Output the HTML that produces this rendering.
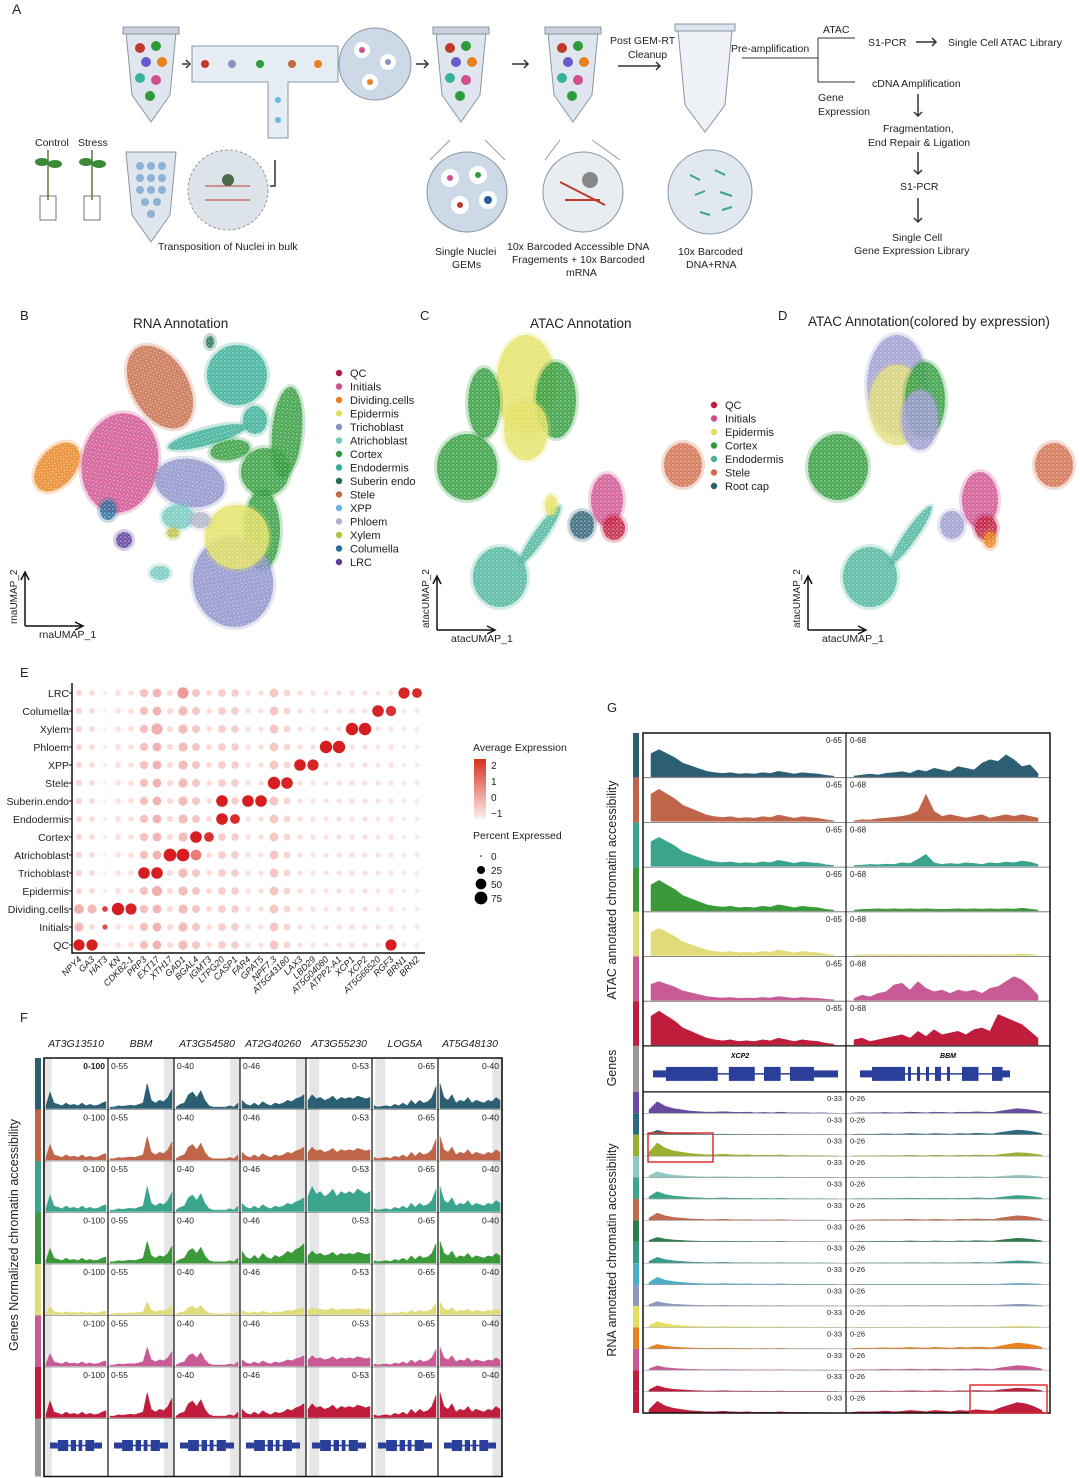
<!DOCTYPE html>
<html><head><meta charset="utf-8">
<style>
html,body{margin:0;padding:0;background:#fff;}
svg{display:block;font-family:"Liberation Sans",sans-serif;}
</style></head>
<body>
<svg id="fig" width="1080" height="1478" viewBox="0 0 1080 1478" xmlns="http://www.w3.org/2000/svg">
<g id="panelA" font-size="10.5" fill="#222">
  <text x="12" y="14" font-size="14">A</text>
  <path d="M126 32 L176 32 L170 95 L151 122 L132 95 Z" fill="#dfe6ee" stroke="#8895a5"/>
  <rect x="123" y="27" width="56" height="7" fill="#c9d2dc" stroke="#8895a5"/>
  <circle cx="140" cy="48" r="5" fill="#c0392b"/><circle cx="156" cy="46" r="5" fill="#2e9a3a"/><circle cx="146" cy="62" r="5" fill="#6a5acd"/><circle cx="162" cy="62" r="5" fill="#e8821e"/><circle cx="140" cy="78" r="5" fill="#36b39a"/><circle cx="156" cy="80" r="5" fill="#d04f8f"/><circle cx="150" cy="96" r="5" fill="#2e9a3a"/>
  <path d="M182 64 L188 64" stroke="#333" stroke-width="1.5"/><path d="M186 60 L190 64 L186 68" fill="none" stroke="#333" stroke-width="1.5"/>
  <path d="M192 46 L338 46 L338 82 L288 82 L288 138 L268 138 L268 82 L192 82 Z" fill="#e6edf3" stroke="#8895a5"/>
  <circle cx="205" cy="64" r="4" fill="#c0392b"/><circle cx="232" cy="64" r="4" fill="#8a8fc8"/><circle cx="260" cy="64" r="4" fill="#2e9a3a"/><circle cx="292" cy="64" r="4" fill="#c46a46"/><circle cx="318" cy="64" r="4" fill="#e8821e"/><circle cx="278" cy="100" r="3" fill="#6ab7dd"/><circle cx="278" cy="120" r="3" fill="#6ab7dd"/>
  <circle cx="375" cy="64" r="36" fill="#cdd9e6" stroke="#8895a5"/>
  <circle cx="362" cy="50" r="8" fill="#fff"/><circle cx="388" cy="62" r="8" fill="#fff"/><circle cx="370" cy="82" r="8" fill="#fff"/><circle cx="362" cy="50" r="3" fill="#d04f8f"/><circle cx="388" cy="62" r="3" fill="#8a8fc8"/><circle cx="370" cy="82" r="3" fill="#e8821e"/>
  <path d="M416 64 L428 64 M424 60 L428 64 L424 68" fill="none" stroke="#333" stroke-width="1.5"/>
  <path d="M436 32 L486 32 L480 95 L461 122 L442 95 Z" fill="#dfe6ee" stroke="#8895a5"/>
  <rect x="433" y="27" width="56" height="7" fill="#c9d2dc" stroke="#8895a5"/>
  <circle cx="450" cy="48" r="5" fill="#c0392b"/><circle cx="466" cy="46" r="5" fill="#2e9a3a"/><circle cx="456" cy="62" r="5" fill="#6a5acd"/><circle cx="472" cy="62" r="5" fill="#e8821e"/><circle cx="450" cy="78" r="5" fill="#36b39a"/><circle cx="466" cy="80" r="5" fill="#d04f8f"/><circle cx="460" cy="96" r="5" fill="#2e9a3a"/>
  <path d="M512 64 L528 64 M524 60 L528 64 L524 68" fill="none" stroke="#333" stroke-width="1.5"/>
  <path d="M548 32 L598 32 L592 95 L573 122 L554 95 Z" fill="#dfe6ee" stroke="#8895a5"/>
  <rect x="545" y="27" width="56" height="7" fill="#c9d2dc" stroke="#8895a5"/>
  <circle cx="562" cy="48" r="5" fill="#c0392b"/><circle cx="578" cy="46" r="5" fill="#2e9a3a"/><circle cx="568" cy="62" r="5" fill="#6a5acd"/><circle cx="584" cy="62" r="5" fill="#e8821e"/><circle cx="562" cy="78" r="5" fill="#36b39a"/><circle cx="578" cy="80" r="5" fill="#d04f8f"/><circle cx="572" cy="96" r="5" fill="#2e9a3a"/>
  <text x="610" y="44">Post GEM-RT</text>
  <text x="628" y="58">Cleanup</text>
  <path d="M618 66 L660 66 M656 62 L660 66 L656 70" fill="none" stroke="#333" stroke-width="1.5"/>
  <path d="M678 30 L732 30 L725 105 L705 132 L685 105 Z" fill="#eef2f6" stroke="#8895a5"/>
  <rect x="675" y="24" width="60" height="7" fill="#dde3ea" stroke="#8895a5"/>
  <text x="731" y="52">Pre-amplification</text>
  <path d="M742 58 L818 58 M818 38 L818 82 M818 38 L855 38 M818 82 L855 82" fill="none" stroke="#333"/>
  <text x="823" y="33">ATAC</text>
  <text x="868" y="46">S1-PCR</text>
  <path d="M916 42 L936 42 M932 38 L936 42 L932 46" fill="none" stroke="#333" stroke-width="1.5"/>
  <text x="948" y="46">Single Cell ATAC Library</text>
  <text x="872" y="87">cDNA Amplification</text>
  <text x="818" y="101">Gene</text><text x="818" y="115">Expression</text>
  <path d="M918 94 L918 116 M914 112 L918 116 L922 112" fill="none" stroke="#333" stroke-width="1.5"/>
  <text x="883" y="132">Fragmentation,</text><text x="868" y="146">End Repair &amp; Ligation</text>
  <path d="M918 152 L918 174 M914 170 L918 174 L922 170" fill="none" stroke="#333" stroke-width="1.5"/>
  <text x="900" y="190">S1-PCR</text>
  <path d="M918 198 L918 222 M914 218 L918 222 L922 218" fill="none" stroke="#333" stroke-width="1.5"/>
  <text x="892" y="241">Single Cell</text><text x="854" y="254">Gene Expression Library</text>
  <text x="35" y="146">Control</text><text x="78" y="146">Stress</text>
  <path d="M48 150 L48 200 M92 150 L92 200" stroke="#5a7a3a" stroke-width="1.5"/>
  <ellipse cx="42" cy="162" rx="7" ry="4" fill="#3a8a3a"/><ellipse cx="55" cy="164" rx="7" ry="4" fill="#3a8a3a"/><ellipse cx="86" cy="162" rx="7" ry="4" fill="#3a8a3a"/><ellipse cx="99" cy="164" rx="7" ry="4" fill="#3a8a3a"/>
  <rect x="40" y="196" width="16" height="24" fill="none" stroke="#777"/><rect x="84" y="196" width="16" height="24" fill="none" stroke="#777"/>
  <path d="M126 152 L176 152 L170 215 L151 242 L132 215 Z" fill="#dfe6ee" stroke="#8895a5"/>
  <g fill="#8fb1d8"><circle cx="140" cy="166" r="4"/><circle cx="151" cy="166" r="4"/><circle cx="162" cy="166" r="4"/><circle cx="140" cy="178" r="4"/><circle cx="151" cy="178" r="4"/><circle cx="162" cy="178" r="4"/><circle cx="140" cy="190" r="4"/><circle cx="151" cy="190" r="4"/><circle cx="162" cy="190" r="4"/><circle cx="145" cy="202" r="4"/><circle cx="157" cy="202" r="4"/><circle cx="151" cy="214" r="4"/></g>
  <circle cx="228" cy="190" r="40" fill="#dde3ea" stroke="#999" stroke-dasharray="3 2"/>
  <path d="M205 186 L250 186 M205 200 L250 200" stroke="#c0392b"/><circle cx="228" cy="180" r="6" fill="#4a6a4a"/>
  <path d="M270 186 L275 186 L275 160" fill="none" stroke="#333" stroke-width="1.5"/>
  <text x="158" y="250">Transposition of Nuclei in bulk</text>
  <circle cx="467" cy="192" r="40" fill="#cdd9e6" stroke="#8895a5"/>
  <g fill="#fff"><circle cx="450" cy="178" r="9"/><circle cx="478" cy="175" r="9"/><circle cx="460" cy="205" r="9"/><circle cx="488" cy="200" r="9"/></g>
  <g><circle cx="450" cy="178" r="3" fill="#d04f8f"/><circle cx="478" cy="175" r="3" fill="#2e9a3a"/><circle cx="460" cy="205" r="3" fill="#c0392b"/><circle cx="488" cy="200" r="4" fill="#2a5a9a"/></g>
  <circle cx="583" cy="192" r="40" fill="#e8edf2" stroke="#8895a5"/>
  <path d="M560 182 L605 205 M565 200 L600 200" stroke="#c0392b" stroke-width="2"/><circle cx="590" cy="180" r="8" fill="#888"/>
  <circle cx="710" cy="192" r="42" fill="#e1e8ef" stroke="#8895a5"/>
  <path d="M690 175 l10 5 M715 170 l10 5 M695 195 l10 -4 M720 192 l12 4 M700 212 l10 3 M722 210 l10 -3" stroke="#3aa58c" stroke-width="2"/>
  <path d="M450 140 L430 160 M485 140 L505 160 M560 140 L545 160 M592 140 L620 160" stroke="#999"/>
  <text x="435" y="255">Single Nuclei</text><text x="452" y="268">GEMs</text>
  <text x="507" y="250">10x Barcoded Accessible DNA</text><text x="512" y="263">Fragements + 10x Barcoded</text><text x="566" y="276">mRNA</text>
  <text x="678" y="255">10x Barcoded</text><text x="686" y="268">DNA+RNA</text>
</g>
<g id="umaps"></g>
<g id="dotplot"></g>
<g id="panelF"></g>
<g id="panelG"></g>
</svg>
<script>
const NS="http://www.w3.org/2000/svg";
function mk(tag,attrs,parent,txt){const e=document.createElementNS(NS,tag);for(const k in attrs)e.setAttribute(k,attrs[k]);if(txt!==undefined)e.textContent=txt;parent.appendChild(e);return e;}

/* ---------- UMAP data ---------- */
const rnaTypes=["QC","Initials","Dividing.cells","Epidermis","Trichoblast","Atrichoblast","Cortex","Endodermis","Suberin endo","Stele","XPP","Phloem","Xylem","Columella","LRC"];
const rnaColors=["#b5174a","#d04f8f","#e8821e","#e3e060","#8a8fc8","#70c8c0","#2e9a3a","#36ad95","#1f6e4e","#c46a46","#6ab7dd","#b0b0c8","#b8c040","#2a6a9a","#5a3a9a"];
const rnaBlobs=[ // [typeIndex, cx, cy, rx, ry, rot]
 [9,160,387,28,45,-30],[7,237,375,30,30,0],[8,210,342,4,6,0],[7,255,420,12,14,0],[7,207,437,40,8,-15],
 [6,287,432,15,45,5],[6,265,472,24,24,0],[6,262,530,18,40,0],[6,230,450,20,10,-10],
 [1,120,463,38,50,10],[2,57,467,18,28,40],[4,190,483,35,24,10],[4,233,582,40,45,-10],
 [3,237,537,32,32,0],[5,178,517,16,12,0],[13,108,510,8,10,0],[14,124,540,8,8,0],[5,160,573,10,7,0],[12,173,533,6,5,0],[11,200,520,10,8,0]];
const atacTypes=["QC","Initials","Epidermis","Cortex","Endodermis","Stele","Root cap"];
const atacColors=["#c01c3c","#d04f8f","#e3e060","#2e9a3a","#4ab39c","#d06a48","#2a5f73"];
const atacBlobs=[[2,526,385,30,50,0],[3,467,467,30,33,0],[3,484,403,16,35,0],[3,556,400,20,38,0],[2,526,430,22,30,0],
 [5,683,465,19,22,0],[1,607,500,16,26,0],[0,614,528,11,12,0],[6,582,525,12,14,0],[4,500,577,27,30,0],[4,540,535,6,35,35],[2,551,505,6,10,0]];
const mixColors=["#c01c3c","#d04f8f","#e0dc7a","#2e9a3a","#4ab39c","#d06a48","#2a5f73","#9a9ad0","#e8821e"];
const mixBlobs=[[3,838,467,30,33,0],[7,897,385,30,50,0],[2,897,405,28,40,0],[3,925,400,20,38,0],[7,920,420,18,30,0],
 [5,1054,465,19,22,0],[1,980,500,18,28,0],[0,986,528,11,12,0],[7,952,525,12,14,0],[8,990,540,6,8,0],[4,870,577,27,30,0],[4,911,535,6,35,35]];
const U=document.getElementById("umaps");
const defs=mk("defs",{},document.getElementById("fig"));
const pat=mk("pattern",{id:"speck",width:"4",height:"4",patternUnits:"userSpaceOnUse"},defs);
mk("circle",{cx:"1",cy:"1",r:"0.8",fill:"#fff","fill-opacity":"0.6"},pat);
mk("circle",{cx:"3",cy:"2.8",r:"0.6",fill:"#fff","fill-opacity":"0.45"},pat);
function drawBlobs(list,colors,name){
  const g=mk("g",{},U);
  
  
  list.forEach(b=>{
    const t=`rotate(${b[5]} ${b[1]} ${b[2]})`;
    mk("ellipse",{cx:b[1],cy:b[2],rx:b[3]+3,ry:b[4]+3,fill:colors[b[0]],"fill-opacity":"0.25",transform:t},g);
    const e=mk("ellipse",{cx:b[1],cy:b[2],rx:b[3],ry:b[4],fill:colors[b[0]],"fill-opacity":"0.82",transform:t},g);
    
    
    mk("ellipse",{cx:b[1],cy:b[2],rx:b[3],ry:b[4],fill:"url(#speck)",transform:t},g);
  });
}
drawBlobs(rnaBlobs,rnaColors,"rna-umap");
drawBlobs(atacBlobs,atacColors,"atac-umap");
drawBlobs(mixBlobs,mixColors,"atac-umap-expression");
function legend(x,y,labels,colors,step,name){
  const g=mk("g",{"font-size":"11",fill:"#222"},U);
  
  
  labels.forEach((l,i)=>{mk("circle",{cx:x,cy:y+i*step-4,r:3.2,fill:colors[i]},g);const t=mk("text",{x:x+11,y:y+i*step},g,l);
    });
}
legend(339,377,rnaTypes,rnaColors,13.5,"rna-legend");
legend(714,409,atacTypes,atacColors,13.5,"atac-legend");
[["B",20,320,"RNA Annotation",133,328],["C",420,320,"ATAC Annotation",530,328],["D",778,320,"ATAC Annotation(colored by expression)",808,326]].forEach(p=>{
  mk("text",{x:p[1],y:p[2],"font-size":"13",fill:"#222"},U,p[0]);
  const t=mk("text",{x:p[4],y:p[5],"font-size":"13.5",fill:"#222"},U,p[3]);
  
});
[[25,626,"rnaUMAP_2","rnaUMAP_1"],[437,630,"atacUMAP_2","atacUMAP_1"],[808,630,"atacUMAP_2","atacUMAP_1"]].forEach(a=>{
  mk("path",{d:`M${a[0]} ${a[1]} L${a[0]} ${a[1]-52} M${a[0]-4} ${a[1]-46} L${a[0]} ${a[1]-54} L${a[0]+4} ${a[1]-46} M${a[0]} ${a[1]} L${a[0]+56} ${a[1]} M${a[0]+50} ${a[1]-4} L${a[0]+58} ${a[1]} L${a[0]+50} ${a[1]+4}`,fill:"none",stroke:"#111","stroke-width":"1.5"},U);
  mk("text",{x:a[0]-8,y:a[1]-2,"font-size":"10",transform:`rotate(-90 ${a[0]-8} ${a[1]-2})`,fill:"#222"},U,a[2]);
  mk("text",{x:a[0]+14,y:a[1]+12,"font-size":"10.5",fill:"#222"},U,a[3]);
});

/* ---------- Dot plot data ---------- */
const dpRows=["LRC","Columella","Xylem","Phloem","XPP","Stele","Suberin.endo","Endodermis","Cortex","Atrichoblast","Trichoblast","Epidermis","Dividing.cells","Initials","QC"];
const dpGenes=["NPY4","GA3","HAT3","KN","CDKB2-1","PRP3","EXT17","XTH17","GAD1","BGAL4","IGMT3","LTPG20","CASP1","FAR4","GPAT5","NPF7.3","AT5G43180","LAX3","LBD29","AT5G04080","ATPP2-A1","XCP1","XCP2","AT5G66520","RGF3","BRN1","BRN2"];
const colBasePct=[12,10,3,10,10,28,32,12,35,25,10,22,22,8,8,32,18,8,8,8,8,8,8,8,8,6,6];
const colBaseExpr=[-0.6,-0.7,-0.9,-0.8,-0.8,-0.3,-0.1,-0.7,-0.2,-0.4,-0.7,-0.5,-0.5,-0.8,-0.8,-0.4,-0.6,-0.8,-0.8,-0.8,-0.8,-0.8,-0.8,-0.8,-0.8,-0.9,-0.9];
const dpHighlights=[ // [row, gene, avgExpr, pctExpressed]
 [0,25,2.2,55],[0,26,2.1,40],[0,8,0.3,55],[1,23,2.2,60],[1,24,2.0,45],[2,21,2.3,70],[2,22,2.3,70],[2,6,0,55],
 [3,19,2.3,70],[3,20,2.3,70],[4,17,2.3,60],[4,18,2.2,55],[5,15,2.3,70],[5,16,2.2,60],
 [6,11,2.3,60],[6,13,2.3,60],[6,14,2.3,60],[7,11,2.3,60],[7,12,2.1,40],[8,9,2.3,60],[8,10,2.0,40],
 [9,7,2.3,75],[9,8,2.3,75],[9,9,0.8,50],[10,5,2.3,60],[10,6,2.3,60],[11,6,0,45],
 [12,3,2.3,70],[12,4,2.2,55],[12,0,0,40],[12,1,-0.2,35],[12,2,1.8,10],[13,0,-0.2,35],[13,2,1.5,8],[14,0,2.3,55],[14,1,2.3,55],[14,24,2.3,55]];
const expTicks=[2,1,0,-1];
const pctTicks=[0,25,50,75];
(function(){
  const G=document.getElementById("dotplot");
  const x0=79,xs=13,y0=693,ys=18;
  const X=i=>x0+i*xs, Y=j=>y0+j*ys;
  const R=p=>0.8+Math.sqrt(p/75)*5.6;
  const C=e=>{const t=Math.max(0,Math.min(1,(e+1)/3.3));const a=[253,238,234],b=[214,30,32];return `rgb(${a.map((v,k)=>Math.round(v+(b[k]-v)*t)).join(",")})`;};
  mk("text",{x:20,y:677,"font-size":"13",fill:"#222"},G,"E");
  mk("path",{d:`M${X(0)-7} 683 L${X(0)-7} 953 L${X(26)+8} 953`,fill:"none",stroke:"#111","stroke-width":"1.5"},G);
  dpRows.forEach((r,j)=>{
    const t=mk("text",{x:X(0)-10,y:Y(j)+4,"font-size":"10.5","text-anchor":"end",fill:"#222"},G,r);
    
    mk("line",{x1:X(0)-10,x2:X(0)-7,y1:Y(j),y2:Y(j),stroke:"#111"},G);
  });
  dpGenes.forEach((g,i)=>{
    const t=mk("text",{x:X(i)+3,y:960,"font-size":"9","text-anchor":"end","font-style":"italic",fill:"#222",transform:`rotate(-45 ${X(i)+3} 960)`},G,g);
    
  });
  const val={};
  dpHighlights.forEach(h=>{val[h[0]+"_"+h[1]]=h;});
  dpRows.forEach((r,j)=>dpGenes.forEach((g,i)=>{
    const h=val[j+"_"+i];
    const e=h?h[2]:colBaseExpr[i], p=h?h[3]:colBasePct[i];
    const c=mk("circle",{cx:X(i),cy:Y(j),r:R(p),fill:C(e)},G);
    
    
  }));
  mk("text",{x:473,y:751,"font-size":"10.5",fill:"#222"},G,"Average Expression");
  const lg=mk("linearGradient",{id:"expg",x1:"0",y1:"0",x2:"0",y2:"1"},defs);
  mk("stop",{offset:"0","stop-color":"#d9301e"},lg);mk("stop",{offset:"1","stop-color":"#fdf0ee"},lg);
  mk("rect",{x:474,y:759,width:12,height:60,fill:"url(#expg)"},G);
  expTicks.forEach(v=>mk("text",{x:491,y:769+(2-v)*16,"font-size":"10",fill:"#222"},G,v===-1?"−1":v));
  mk("text",{x:473,y:839,"font-size":"10.5",fill:"#222"},G,"Percent Expressed");
  pctTicks.forEach((v,k)=>{mk("circle",{cx:481,cy:856+k*14,r:R(v)},G);mk("text",{x:491,y:860+k*14,"font-size":"10",fill:"#222"},G,v);});
})();

/* ---------- Track helpers ---------- */
function area(g,x,y,w,h,vals,color,name){
  let d=`M${x} ${y+h}`;
  const n=vals.length;
  vals.forEach((v,i)=>{const xx=x+i*w/(n-1);d+=` L${xx.toFixed(1)} ${(y+h-Math.min(1,v)*h*0.95).toFixed(1)}`;});
  d+=` L${x+w} ${y+h} Z`;
  const p=mk("path",{d:d,fill:color,stroke:color,"stroke-width":"0.5"},g);
  
  
}
function geneModel(g,x,y,w,exons,name){
  const gg=mk("g",{},g);
  
  
  mk("line",{x1:x,x2:x+w,y1:y,y2:y,stroke:"#2a3f9a","stroke-width":"1.5"},gg);
  exons.forEach(e=>mk("rect",{x:x+e[0]*w,y:y-e[2]/2,width:(e[1]-e[0])*w,height:e[2],fill:"#2a3f9a"},gg));
}

/* ---------- Panel F data ---------- */
const fGenes=["AT3G13510","BBM","AT3G54580","AT2G40260","AT3G55230","LOG5A","AT5G48130"];
const fRanges=["0-100","0-55","0-40","0-46","0-53","0-65","0-40"];
const fRangeRight=[1,0,0,0,1,1,1];
const fColors=["#2c5f73","#c0654a","#3aa58c","#3a9a3a","#e0dc7a","#c85a96","#c01c3c"];
const fProfiles=[
 [0.1,0.6,0.2,0.15,0.1,0.2,0.12,0.15,0.1,0.2,0.1,0.15,0.1,0.12,0.2,0.25],
 [0.05,0.05,0.1,0.08,0.1,0.12,0.1,0.15,0.2,0.9,0.3,0.2,0.3,0.25,0.4,0.7],
 [0.05,0.15,0.2,0.5,0.6,0.4,0.65,0.3,0.1,0.05,0.05,0.05,0.05,0.1,0.05,0.2],
 [0.3,0.15,0.1,0.2,0.1,0.25,0.15,0.1,0.2,0.15,0.2,0.3,0.25,0.35,0.4,0.5],
 [0.3,0.5,0.35,0.4,0.3,0.35,0.45,0.3,0.4,0.35,0.4,0.35,0.45,0.4,0.35,0.4],
 [0.1,0.05,0.08,0.1,0.06,0.15,0.1,0.2,0.1,0.3,0.15,0.3,0.2,0.25,0.4,0.8],
 [0.9,0.4,0.3,0.5,0.2,0.3,0.25,0.4,0.2,0.3,0.25,0.2,0.3,0.25,0.4,0.3]];
const fRowScale=[0.8,0.75,0.8,0.7,0.4,0.6,0.8];
(function(){
  const G=document.getElementById("panelF");
  const cols=[44,108,174,240,306,372,438,502];
  const top=1058,rh=51.5,nRows=7;
  mk("text",{x:20,y:1022,"font-size":"13",fill:"#222"},G,"F");
  fGenes.forEach((g,i)=>{const t=mk("text",{x:(cols[i]+cols[i+1])/2,y:1047,"font-size":"10.5","font-style":"italic","text-anchor":"middle",fill:"#222"},G,g);
    });
  const yl=mk("text",{x:18,y:1235,"font-size":"12.5","text-anchor":"middle",fill:"#222",transform:"rotate(-90 18 1235)"},G,"Genes Normalized chromatin accessibility");
  
  const shade=[[0,0.12],[0.85,1],[0.85,1],[0.85,1],[0.05,0.2],[0.05,0.2],[0.85,1]];
  fColors.forEach((c,r)=>mk("rect",{x:35,y:top+r*rh,width:6,height:rh,fill:c},G));
  mk("rect",{x:35,y:top+nRows*rh,width:6,height:58,fill:"#999"},G);
  fGenes.forEach((g,i)=>{const w=cols[i+1]-cols[i];mk("rect",{x:cols[i]+shade[i][0]*w,y:top,width:(shade[i][1]-shade[i][0])*w,height:nRows*rh+58,fill:"#e6e6e6"},G);});
  fColors.forEach((c,r)=>{
    fGenes.forEach((g,i)=>{
      const x=cols[i]+2,w=cols[i+1]-cols[i]-4;
      area(G,x,top+r*rh+14,w,rh-15,fProfiles[i].map(v=>v*fRowScale[r]*(r===2&&i===4?1.8:1)*(r===3&&i===3?1.6:1)),c,"accessibility-track");
      const t=mk("text",{x:fRangeRight[i]?cols[i+1]-3:cols[i]+3,y:top+r*rh+11,"font-size":"8.5","font-weight":i===0&&r===0?"bold":"normal","text-anchor":fRangeRight[i]?"end":"start",fill:"#222"},G,fRanges[i]);
      
    });
    mk("line",{x1:cols[0],x2:cols[7],y1:top+(r+1)*rh,y2:top+(r+1)*rh,stroke:"#888","stroke-width":"0.7"},G);
  });
  fGenes.forEach((g,i)=>geneModel(G,cols[i]+6,top+nRows*rh+27,cols[i+1]-cols[i]-12,[[0,0.15,6],[0.15,0.35,11],[0.4,0.5,11],[0.55,0.62,11],[0.68,0.85,11],[0.85,1,6]],"gene-model"));
  cols.forEach(x=>mk("line",{x1:x,x2:x,y1:top,y2:top+nRows*rh+58,stroke:"#111","stroke-width":"1.2"},G));
  mk("rect",{x:cols[0],y:top,width:cols[7]-cols[0],height:nRows*rh+58,fill:"none",stroke:"#111","stroke-width":"1.5"},G);
})();

/* ---------- Panel G data ---------- */
const gAtacColors=["#2c5f73","#c0654a","#3aa58c","#3a9a3a","#e0dc7a","#c85a96","#c01c3c"];
const gAtacLeft=[0.85,1,0.85,0.7,0.5,0.4,0.3,0.2,0.15,0.12,0.15,0.1,0.12,0.1,0.15,0.12,0.2,0.15,0.1,0.15,0.12,0.1,0.05,0.02];
const gAtacLeftScale=[0.8,0.95,0.85,0.9,0.8,0.55,1];
const gAtacRight=[
 [0.02,0.05,0.08,0.05,0.1,0.12,0.15,0.1,0.2,0.15,0.25,0.2,0.15,0.3,0.25,0.2,0.4,0.5,0.45,0.65,0.5,0.3,0.35,0.1],
 [0.02,0.05,0.04,0.08,0.1,0.12,0.15,0.2,0.3,0.8,0.3,0.15,0.2,0.15,0.1,0.15,0.2,0.1,0.15,0.2,0.15,0.2,0.15,0.1],
 [0.02,0.03,0.05,0.04,0.06,0.05,0.1,0.08,0.2,0.35,0.1,0.05,0.08,0.06,0.1,0.08,0.05,0.1,0.08,0.12,0.1,0.15,0.12,0.05],
 [0.02,0.04,0.05,0.06,0.05,0.06,0.05,0.06,0.05,0.06,0.05,0.04,0.05,0.06,0.05,0.06,0.05,0.06,0.05,0.06,0.05,0.08,0.05,0.02],
 [0.01,0.02,0.03,0.02,0.03,0.02,0.03,0.02,0.03,0.02,0.03,0.02,0.03,0.02,0.03,0.02,0.03,0.02,0.03,0.02,0.03,0.05,0.03,0.01],
 [0.05,0.15,0.1,0.2,0.25,0.45,0.5,0.3,0.55,0.35,0.25,0.3,0.2,0.3,0.25,0.3,0.2,0.35,0.4,0.55,0.7,0.6,0.4,0.15],
 [0.15,0.2,0.1,0.15,0.2,0.25,0.3,0.2,0.4,0.25,0.45,0.3,0.35,0.4,0.3,0.45,0.5,0.4,0.9,0.8,0.7,0.6,0.4,0.2]];
const gRnaColors=["#6a4aa0","#2c6a80","#9ab030","#8fc8c8","#3aa58c","#c06a50","#2e7a4a","#3a9a8a","#4ab0c8","#8a9ac0","#e3e060","#e8821e","#c85a96","#c01c3c","#c01c3c"];
const gRnaLeft=[0.3,1,0.6,0.4,0.3,0.2,0.15,0.1,0.1,0.15,0.1,0.08,0.1,0.05,0.08,0.05,0.1,0.05,0.04,0.05,0.03,0.04,0.02,0.01];
const gRnaLeftScale=[0.8,0.3,0.9,0.4,0.5,0.5,0.3,0.4,0.5,0.3,0.4,0.3,0.3,0.4,0.8];
const gRnaRight=[0.05,0.1,0.08,0.1,0.15,0.1,0.12,0.2,0.15,0.1,0.2,0.15,0.1,0.2,0.15,0.25,0.2,0.15,0.4,0.6,0.8,0.7,0.5,0.2];
const gRnaRightScale=[0.4,0.4,0.3,0.2,0.3,0.4,0.3,0.2,0.1,0.15,0.1,0.5,0.4,0.3,0.9];
(function(){
  const G=document.getElementById("panelG");
  mk("text",{x:607,y:712,"font-size":"13",fill:"#222"},G,"G");
  const L=643,M=846,Rr=1050,top=733,ah=44.7,gh=46,rnaTop=top+7*ah+gh,rh=(1413-rnaTop)/15;
  [["ATAC annotated chromatin accessibility",616,890],["Genes",616,1068],["RNA annotated chromatin accessibility",616,1250]].forEach(a=>{
    const t=mk("text",{x:a[1],y:a[2],"font-size":"12.5","text-anchor":"middle",fill:"#222",transform:`rotate(-90 ${a[1]} ${a[2]})`},G,a[0]);
    
  });
  gAtacColors.forEach((c,r)=>{
    const y=top+r*ah;
    mk("rect",{x:633,y:y,width:6,height:ah,fill:c},G);
    area(G,L+8,y+8,M-L-20,ah-9,gAtacLeft.map(v=>v*gAtacLeftScale[r]),c,"atac-track-xcp2");
    area(G,M+8,y+8,Rr-M-20,ah-9,gAtacRight[r],c,"atac-track-bbm");
    mk("text",{x:M-4,y:y+10,"font-size":"8","text-anchor":"end",fill:"#222"},G,"0-65");
    mk("text",{x:M+4,y:y+10,"font-size":"8",fill:"#222"},G,"0-68");
    mk("line",{x1:L,x2:Rr,y1:y+ah,y2:y+ah,stroke:"#666","stroke-width":"0.8"},G);
  });
  const gy=top+7*ah;
  mk("rect",{x:633,y:gy,width:6,height:gh,fill:"#999"},G);
  mk("text",{x:740,y:gy+12,"font-size":"7","font-style":"italic","font-weight":"bold","text-anchor":"middle"},G,"XCP2");
  mk("text",{x:948,y:gy+12,"font-size":"7","font-style":"italic","font-weight":"bold","text-anchor":"middle"},G,"BBM");
  geneModel(G,653,gy+28,185,[[0,0.07,7],[0.07,0.35,14],[0.41,0.55,14],[0.6,0.69,14],[0.74,0.87,14],[0.87,1,7]],"gene-model-xcp2");
  geneModel(G,860,gy+28,150,[[0,0.08,7],[0.08,0.3,14],[0.32,0.34,14],[0.38,0.4,14],[0.44,0.46,14],[0.5,0.54,14],[0.58,0.6,14],[0.68,0.79,14],[0.88,0.95,14],[0.95,1,7]],"gene-model-bbm");
  mk("line",{x1:L,x2:Rr,y1:rnaTop,y2:rnaTop,stroke:"#111","stroke-width":"1.2"},G);
  gRnaColors.forEach((c,r)=>{
    const y=rnaTop+r*rh;
    mk("rect",{x:633,y:y,width:6,height:rh,fill:c},G);
    area(G,L+6,y+6,M-L-14,rh-6,gRnaLeft.map(v=>v*gRnaLeftScale[r]),c,"rna-track-xcp2");
    area(G,M+6,y+6,Rr-M-14,rh-6,gRnaRight.map(v=>v*gRnaRightScale[r]),c,"rna-track-bbm");
    mk("text",{x:M-4,y:y+9,"font-size":"7.5","text-anchor":"end",fill:"#222"},G,"0-33");
    mk("text",{x:M+4,y:y+9,"font-size":"7.5",fill:"#222"},G,"0-26");
    mk("line",{x1:L,x2:Rr,y1:y+rh,y2:y+rh,stroke:"#999","stroke-width":"0.6"},G);
  });
  mk("line",{x1:M,x2:M,y1:top,y2:1413,stroke:"#111","stroke-width":"1.2"},G);
  mk("rect",{x:L,y:top,width:Rr-L,height:1413-top,fill:"none",stroke:"#111","stroke-width":"1.5"},G);
  mk("line",{x1:L,x2:Rr,y1:gy,y2:gy,stroke:"#111","stroke-width":"1.2"},G);
  const h1=mk("rect",{x:648,y:1133,width:65,height:29,fill:"none",stroke:"#e03030","stroke-width":"1.5"},G);
  
  const h2=mk("rect",{x:970,y:1385,width:77,height:28,fill:"none",stroke:"#e03030","stroke-width":"1.5"},G);
  
})();
</script>
</body></html>
